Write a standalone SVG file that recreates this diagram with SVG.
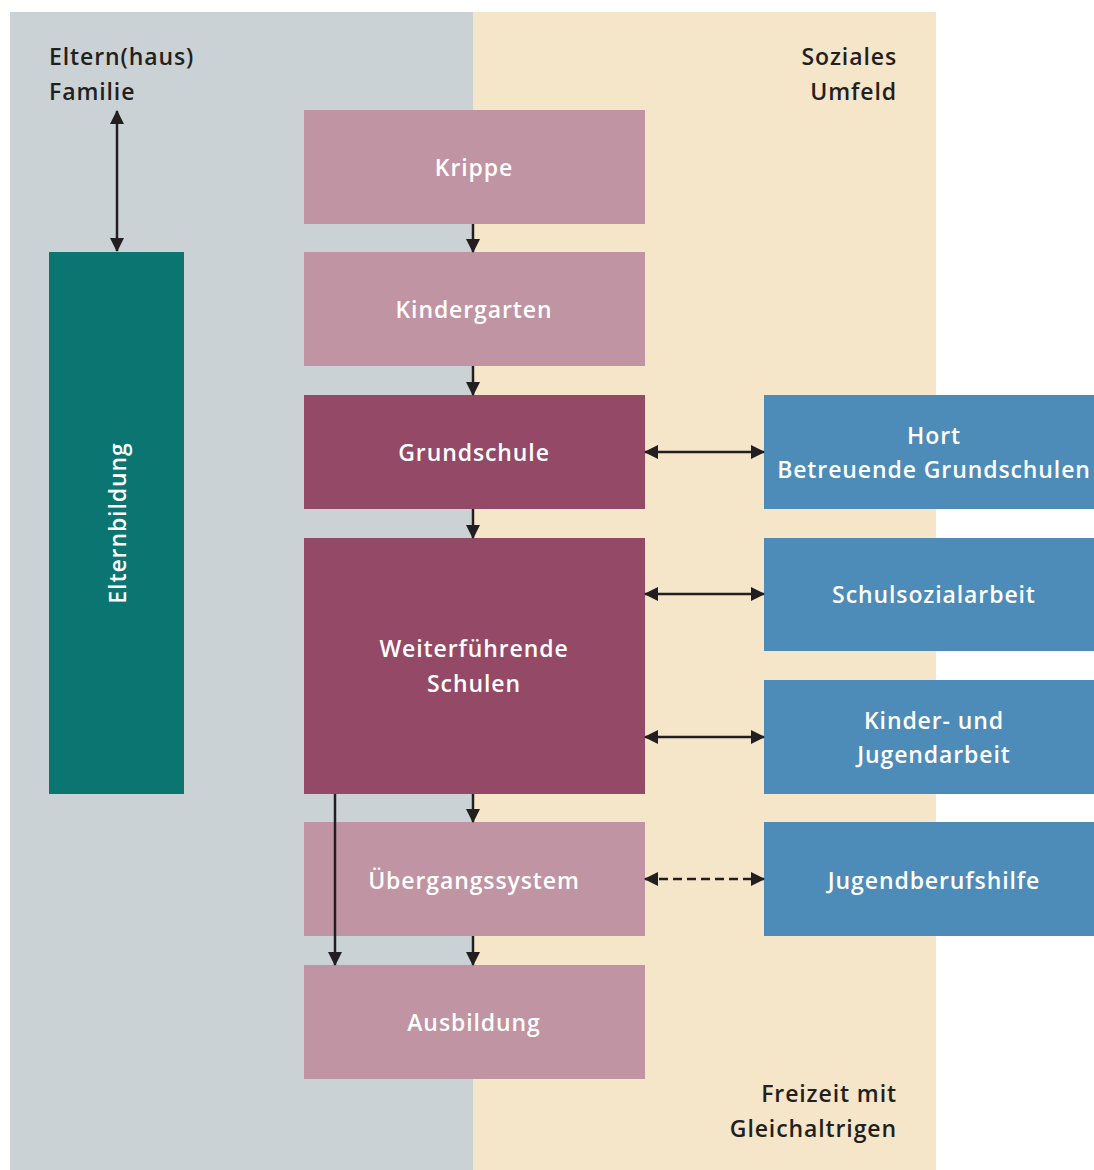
<svg xmlns="http://www.w3.org/2000/svg" width="1094" height="1170" viewBox="0 0 1094 1170">
<defs>
<marker id="ah" markerWidth="14" markerHeight="14" viewBox="0 0 14 14" refX="13" refY="7" orient="auto-start-reverse" markerUnits="userSpaceOnUse">
<path d="M0,0 L14,7 L0,14 Z" fill="#231f20"/>
</marker>
<style>
text{font-family:"Open Sans",Lato,"Liberation Sans",sans-serif;font-weight:600;font-size:23px;letter-spacing:0.9px}
.w{fill:#ffffff;text-anchor:middle}
.d{fill:#231f20}
.light{fill:#c094a2}
.dark{fill:#944a67}
.blue{fill:#4d8cb8}
.teal{fill:#0b7572}
.c{stroke:#231f20;stroke-width:2.5;fill:none}
</style>
</defs>
<rect x="0" y="0" width="1094" height="1170" fill="#ffffff"/>
<g id="zone-eltern">
<rect x="10" y="12" width="463" height="1158" fill="#cad2d5"/>
<text class="d" x="49" y="65">Eltern(haus)</text>
<text class="d" x="49" y="100">Familie</text>
</g>
<g id="zone-sozial">
<rect x="473" y="12" width="463" height="1158" fill="#f5e5c9"/>
<text class="d" x="897" y="65" text-anchor="end">Soziales</text>
<text class="d" x="897" y="100" text-anchor="end">Umfeld</text>
<text class="d" x="897" y="1102" text-anchor="end">Freizeit mit</text>
<text class="d" x="897" y="1137" text-anchor="end">Gleichaltrigen</text>
</g>
<g id="krippe"><rect class="light" x="304" y="110" width="341" height="114"/><text class="w" x="474" y="176">Krippe</text></g>
<g id="kindergarten"><rect class="light" x="304" y="252" width="341" height="114"/><text class="w" x="474" y="318">Kindergarten</text></g>
<g id="grundschule"><rect class="dark" x="304" y="395" width="341" height="114"/><text class="w" x="474" y="461">Grundschule</text></g>
<g id="weiterfuehrende"><rect class="dark" x="304" y="538" width="341" height="256"/><text class="w" x="474" y="657">Weiterführende</text><text class="w" x="474" y="692">Schulen</text></g>
<g id="uebergang"><rect class="light" x="304" y="822" width="341" height="114"/><text class="w" x="474" y="889">Übergangssystem</text></g>
<g id="ausbildung"><rect class="light" x="304" y="965" width="341" height="114"/><text class="w" x="474" y="1031">Ausbildung</text></g>
<g id="elternbildung"><rect class="teal" x="49" y="252" width="135" height="542"/><text class="w" transform="translate(126,523) rotate(-90)">Elternbildung</text></g>
<g id="hort"><rect class="blue" x="764" y="395" width="330" height="114"/><text class="w" x="934" y="444">Hort</text><text class="w" x="934" y="478">Betreuende Grundschulen</text></g>
<g id="schulsozialarbeit"><rect class="blue" x="764" y="538" width="330" height="113"/><text class="w" x="934" y="603">Schulsozialarbeit</text></g>
<g id="jugendarbeit"><rect class="blue" x="764" y="680" width="330" height="114"/><text class="w" x="934" y="729">Kinder- und</text><text class="w" x="934" y="763">Jugendarbeit</text></g>
<g id="jugendberufshilfe"><rect class="blue" x="764" y="822" width="330" height="114"/><text class="w" x="934" y="889">Jugendberufshilfe</text></g>
<g id="connectors">
<line class="c" x1="117" y1="111" x2="117" y2="251" marker-start="url(#ah)" marker-end="url(#ah)"/>
<line class="c" x1="473" y1="224" x2="473" y2="252" marker-end="url(#ah)"/>
<line class="c" x1="473" y1="366" x2="473" y2="395" marker-end="url(#ah)"/>
<line class="c" x1="473" y1="509" x2="473" y2="538" marker-end="url(#ah)"/>
<line class="c" x1="473" y1="794" x2="473" y2="822" marker-end="url(#ah)"/>
<line class="c" x1="473" y1="936" x2="473" y2="965" marker-end="url(#ah)"/>
<line class="c" x1="335" y1="794" x2="335" y2="965" marker-end="url(#ah)"/>
<line class="c" x1="645" y1="452" x2="764" y2="452" marker-start="url(#ah)" marker-end="url(#ah)"/>
<line class="c" x1="645" y1="594" x2="764" y2="594" marker-start="url(#ah)" marker-end="url(#ah)"/>
<line class="c" x1="645" y1="737" x2="764" y2="737" marker-start="url(#ah)" marker-end="url(#ah)"/>
<line class="c" x1="645" y1="879" x2="764" y2="879" stroke-dasharray="9,5" marker-start="url(#ah)" marker-end="url(#ah)"/>
</g>
</svg>
